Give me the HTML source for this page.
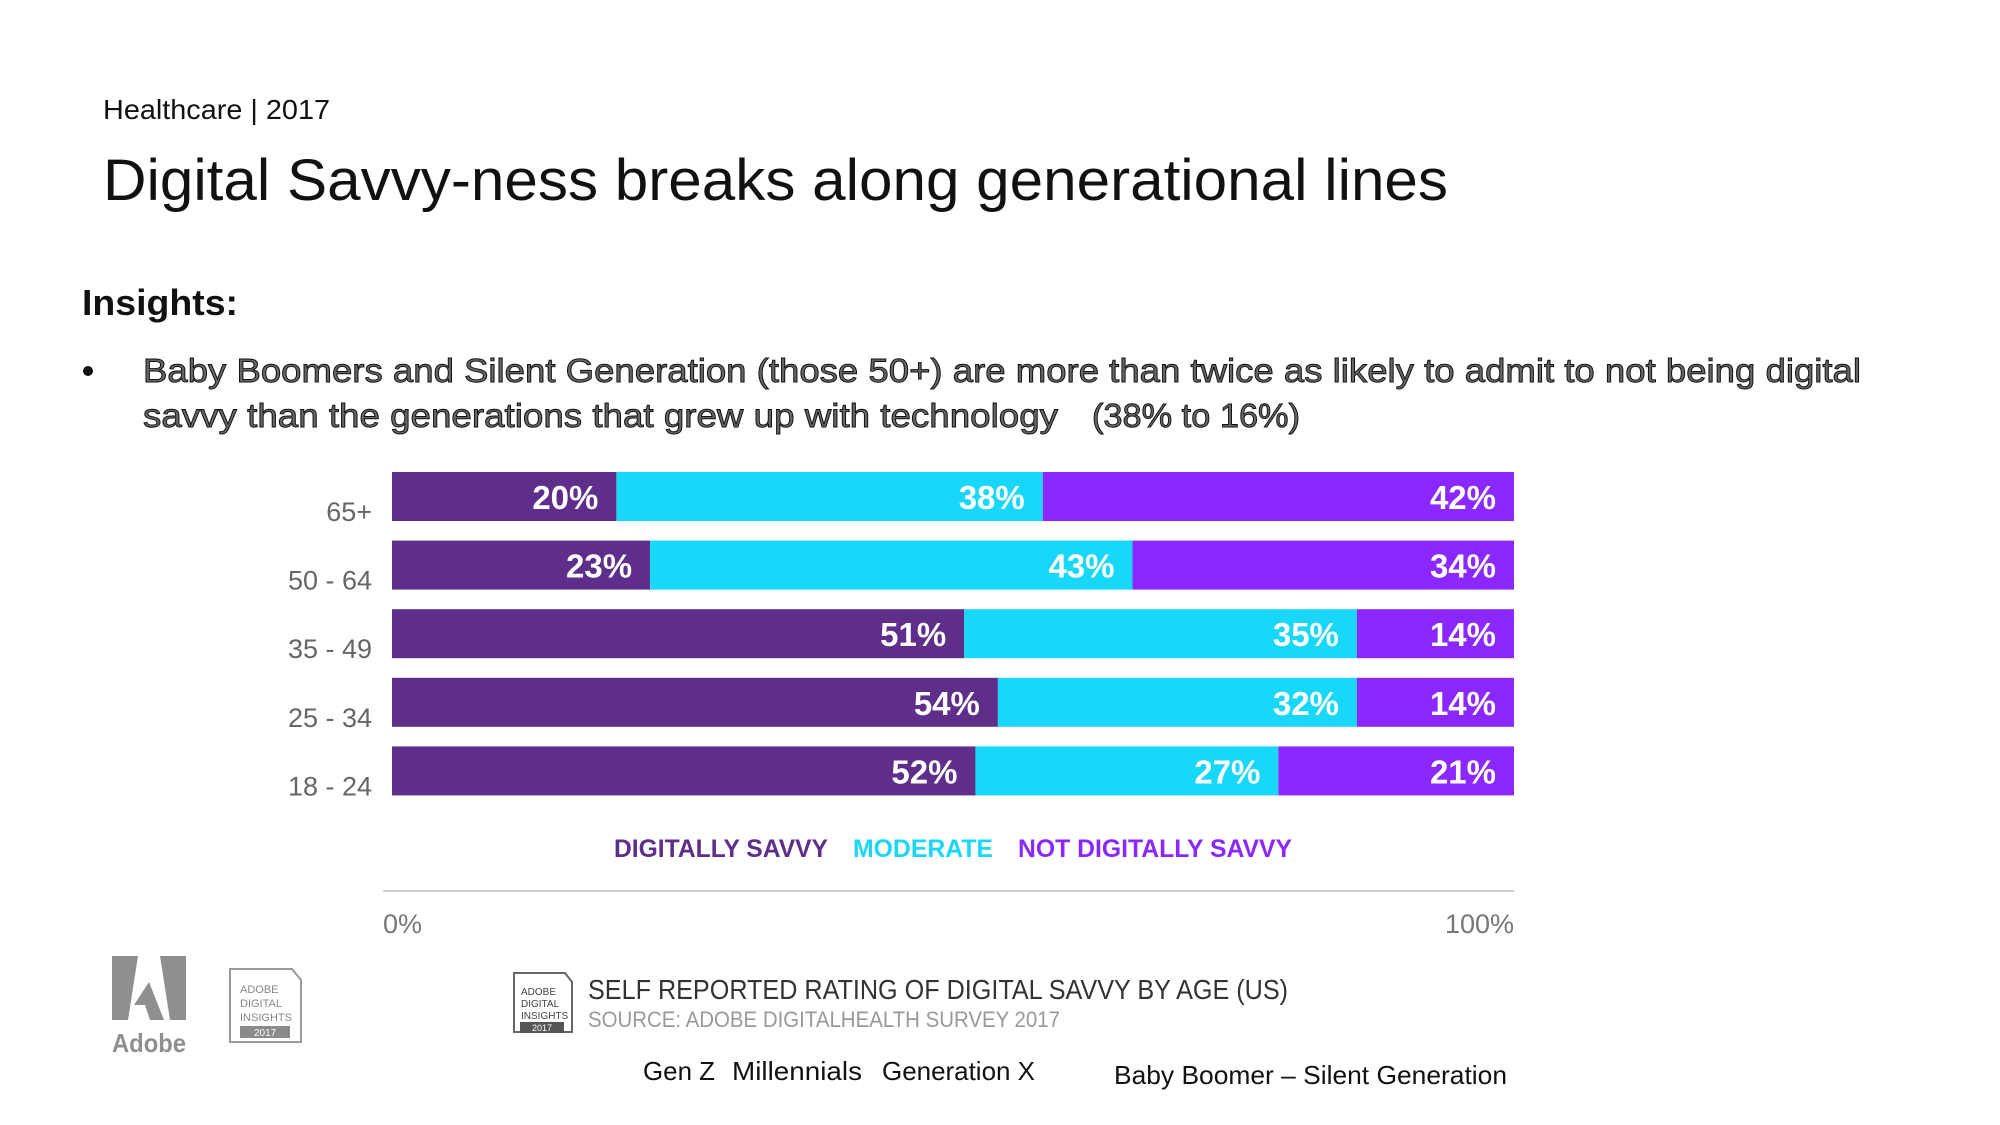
<!DOCTYPE html>
<html><head><meta charset="utf-8"><style>
body{margin:0;background:#fff;}
svg{display:block;font-family:"Liberation Sans",sans-serif;}
</style></head><body>
<svg id="chart" width="2000" height="1125" viewBox="0 0 2000 1125">
<text x="103" y="119" font-size="28" fill="#111" textLength="227" lengthAdjust="spacingAndGlyphs">Healthcare | 2017</text>
<text x="103" y="200" font-size="58" fill="#111" textLength="1345" lengthAdjust="spacingAndGlyphs">Digital Savvy-ness breaks along generational lines</text>
<text x="82" y="315" font-size="36" font-weight="bold" fill="#111" textLength="156" lengthAdjust="spacingAndGlyphs">Insights:</text>
<circle cx="88" cy="371" r="5" fill="#111"/>
<g font-size="33" fill="#666" stroke="#111" stroke-width="0.9">
<text x="143" y="382" textLength="1718" lengthAdjust="spacingAndGlyphs">Baby Boomers and Silent Generation (those 50+) are more than twice as likely to admit to not being digital</text>
<text x="143" y="427" textLength="915" lengthAdjust="spacingAndGlyphs">savvy than the generations that grew up with technology</text>
<text x="1092" y="427" textLength="208" lengthAdjust="spacingAndGlyphs">(38% to 16%)</text>
</g>
<g id="bars"></g>
<g font-size="25" font-weight="bold">
<text x="614" y="857" fill="#5f2d8a" textLength="214" lengthAdjust="spacingAndGlyphs">DIGITALLY SAVVY</text>
<text x="853" y="857" fill="#19d7f9" textLength="140" lengthAdjust="spacingAndGlyphs">MODERATE</text>
<text x="1018" y="857" fill="#8a28ff" textLength="274" lengthAdjust="spacingAndGlyphs">NOT DIGITALLY SAVVY</text>
</g>
<line x1="383" y1="891" x2="1514" y2="891" stroke="#d0d0d0" stroke-width="2"/>
<g id="xticks" font-size="27" fill="#777"></g>
<g>
<polygon points="112,956 138,956 128,1020 112,1020" fill="#8f8f8f"/>
<polygon points="160,956 186,956 186,1020 170,1020" fill="#8f8f8f"/>
<polygon points="149,982 164,1020 150,1020 145,1005 134,1005" fill="#8f8f8f"/>
<text x="112" y="1052" font-size="26" font-weight="bold" fill="#8f8f8f" textLength="74" lengthAdjust="spacingAndGlyphs">Adobe</text>
</g>
<g>
<path d="M230,969 H292 L301,980 V1042 H230 Z" fill="none" stroke="#9a9a9a" stroke-width="2"/>
<text x="240" y="993" font-size="11" fill="#888">ADOBE</text><text x="240" y="1007" font-size="11" fill="#888">DIGITAL</text><text x="240" y="1021" font-size="11" fill="#888">INSIGHTS</text>
<rect x="240" y="1026" width="50" height="12" fill="#8a8a8a"/><text x="254" y="1036" font-size="10" fill="#fff">2017</text>
</g>
<g>
<path d="M514,973 H565 L572,982 V1032 H514 Z" fill="none" stroke="#666" stroke-width="2"/>
<text x="521" y="995" font-size="10" fill="#444">ADOBE</text><text x="521" y="1007" font-size="10" fill="#444">DIGITAL</text><text x="521" y="1019" font-size="10" fill="#444">INSIGHTS</text>
<rect x="520" y="1022" width="44" height="11" fill="#555"/><text x="532" y="1031" font-size="9" fill="#fff">2017</text>
</g>
<text x="588" y="999" font-size="28" fill="#333" textLength="700" lengthAdjust="spacingAndGlyphs">SELF REPORTED RATING OF DIGITAL SAVVY BY AGE (US)</text>
<text x="588" y="1027" font-size="22" fill="#999" textLength="472" lengthAdjust="spacingAndGlyphs">SOURCE: ADOBE DIGITALHEALTH SURVEY 2017</text>
<g font-size="26" fill="#111">
<text x="643" y="1080" textLength="72" lengthAdjust="spacingAndGlyphs">Gen Z</text>
<text x="732" y="1080" textLength="130" lengthAdjust="spacingAndGlyphs">Millennials</text>
<text x="882" y="1080" textLength="153" lengthAdjust="spacingAndGlyphs">Generation X</text>
</g>
<text x="1114" y="1084" font-size="26" fill="#111" textLength="393" lengthAdjust="spacingAndGlyphs">Baby Boomer – Silent Generation</text>
</svg>
<script>
const categories = ["65+", "50 - 64", "35 - 49", "25 - 34", "18 - 24"];
const savvy = [20, 23, 51, 54, 52];
const moderate = [38, 43, 35, 32, 27];
const notSavvy = [42, 34, 14, 14, 21];
const tickValues = [0, 100];
const tickLabels = ["0%", "100%"];

const NS = "http://www.w3.org/2000/svg";
const x0 = 392, x1 = 1514, barTop = 472, pitch = 68.6, barH = 49;
function xScale(v){ return x0 + (x1 - x0) * v / 100; }
function yScale(i){ return barTop + i * pitch; }
const colors = ["#5f2d8a", "#19d7f9", "#8a28ff"];
const series = [savvy, moderate, notSavvy];
const segNames = ["savvy", "moderate", "not-savvy"];
const g = document.getElementById("bars");
categories.forEach((cat, i) => {
  const y = yScale(i);
  const lab = document.createElementNS(NS, "text");
  lab.setAttribute("x", 372); lab.setAttribute("y", y + barH);
  lab.setAttribute("text-anchor", "end"); lab.setAttribute("font-size", "27");
  lab.setAttribute("fill", "#666");
  
  
  lab.textContent = cat; g.appendChild(lab);
  let cum = 0;
  series.forEach((s, k) => {
    const v = s[i];
    const r = document.createElementNS(NS, "rect");
    r.setAttribute("x", xScale(cum)); r.setAttribute("y", y);
    r.setAttribute("width", xScale(cum + v) - xScale(cum)); r.setAttribute("height", barH);
    r.setAttribute("fill", colors[k]);
    
    
    g.appendChild(r);
    cum += v;
    const t = document.createElementNS(NS, "text");
    t.setAttribute("x", xScale(cum) - 18); t.setAttribute("y", y + 37);
    t.setAttribute("text-anchor", "end"); t.setAttribute("font-size", "33");
    t.setAttribute("font-weight", "bold"); t.setAttribute("fill", "#fff");
    
    
    t.textContent = v + "%"; g.appendChild(t);
  });
});
const xt = document.getElementById("xticks");
tickValues.forEach((v, i) => {
  const t = document.createElementNS(NS, "text");
  t.setAttribute("x", i === 0 ? xScale(v) - 9 : xScale(v));
  t.setAttribute("y", 933);
  t.setAttribute("text-anchor", i === 0 ? "start" : "end");
  
  
  t.textContent = tickLabels[i]; xt.appendChild(t);
});
</script>
</body></html>
